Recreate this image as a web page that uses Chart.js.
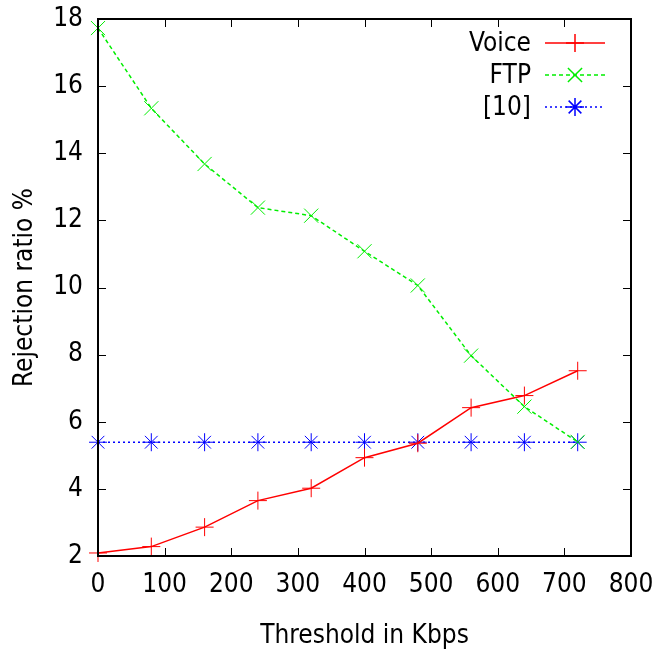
<!DOCTYPE html>
<html>
<head>
<meta charset="utf-8">
<script src="https://cdn.jsdelivr.net/npm/chart.js@4"></script>
<style>
  html, body { margin: 0; padding: 0; background: #fff; }
  #chart { display: block; }
</style>
</head>
<body>
<canvas id="chart" width="655" height="652"></canvas>
<script>
const thresholds = [0, 80, 160, 240, 320, 400, 480, 560, 640, 720];
const voice = [2.09, 2.28, 2.86, 3.65, 4.02, 4.93, 5.36, 6.42, 6.78, 7.52];
const ftp = [17.73, 15.34, 13.68, 12.38, 12.14, 11.08, 10.06, 7.97, 6.45, 5.40];
const ref10 = [5.39, 5.39, 5.39, 5.39, 5.39, 5.39, 5.39, 5.39, 5.39, 5.39];
const seriesNames = ["Voice", "FTP", "[10]"];
const xTicks = [0, 100, 200, 300, 400, 500, 600, 700, 800];
const yTicks = [2, 4, 6, 8, 10, 12, 14, 16, 18];

const FONT = "'DejaVu Sans Condensed', 'Liberation Sans Narrow', 'Liberation Sans', sans-serif";

const toPoints = (vals) => thresholds.map((x, i) => ({ x, y: vals[i] }));

// gnuplot-like frame with inward ticks on all four sides
const framePlugin = {
    id: "frame",
    afterDatasetsDraw(chart) {
        const { ctx, chartArea: a, scales } = chart;
        const len = 8;
        ctx.save();
        ctx.strokeStyle = "#000";
        ctx.lineWidth = 1;
        ctx.beginPath();
        xTicks.forEach((v) => {
            const px = Math.round(scales.x.getPixelForValue(v)) + 0.5;
            if (v === xTicks[0] || v === xTicks[xTicks.length - 1]) return;
            ctx.moveTo(px, a.bottom); ctx.lineTo(px, a.bottom - len);
            ctx.moveTo(px, a.top); ctx.lineTo(px, a.top + len);
        });
        yTicks.forEach((v) => {
            const py = Math.round(scales.y.getPixelForValue(v)) + 0.5;
            if (v === yTicks[0] || v === yTicks[yTicks.length - 1]) return;
            ctx.moveTo(a.left, py); ctx.lineTo(a.left + len, py);
            ctx.moveTo(a.right, py); ctx.lineTo(a.right - len, py);
        });
        ctx.stroke();
        ctx.lineWidth = 2;
        ctx.strokeRect(a.left, a.top, a.right - a.left, a.bottom - a.top);
        ctx.restore();
    },
};

// legend: right-aligned label, sample line with marker to its right
const keyPlugin = {
    id: "key",
    afterDraw(chart) {
        const { ctx } = chart;
        ctx.save();
        ctx.font = "26px " + FONT;
        ctx.textAlign = "right";
        ctx.textBaseline = "middle";
        chart.data.datasets.forEach((ds, i) => {
            const y = 43 + i * 32;
            ctx.fillStyle = "#000";
            ctx.fillText(ds.label, 531, y + 1);
            ctx.strokeStyle = ds.borderColor;
            ctx.lineWidth = ds.borderWidth;
            ctx.setLineDash(ds.borderDash || []);
            ctx.beginPath();
            ctx.moveTo(545, y);
            ctx.lineTo(605, y);
            ctx.stroke();
            ctx.setLineDash([]);
            Chart.helpers.drawPoint(ctx, {
                pointStyle: ds.pointStyle,
                rotation: 0,
                radius: ds.pointRadius,
                borderWidth: ds.pointBorderWidth || 1,
            }, 575, y);
        });
        ctx.restore();
    },
};

new Chart(document.getElementById("chart"), {
    type: "line",
    data: {
        datasets: [
            {
                label: seriesNames[0],
                data: toPoints(voice),
                borderColor: "#ff0000",
                backgroundColor: "#ff0000",
                borderWidth: 1.5,
                pointStyle: "cross",
                pointRadius: 9,
                pointBorderWidth: 1,
                clip: false,
            },
            {
                label: seriesNames[1],
                data: toPoints(ftp),
                borderColor: "#00ee00",
                backgroundColor: "#00ee00",
                borderWidth: 1.5,
                borderDash: [4, 3],
                pointStyle: "crossRot",
                pointRadius: 10,
                pointBorderWidth: 1,
                clip: false,
            },
            {
                label: seriesNames[2],
                data: toPoints(ref10),
                borderColor: "#0000ff",
                backgroundColor: "#0000ff",
                borderWidth: 1.5,
                borderDash: [2, 3],
                pointStyle: "star",
                pointRadius: 9,
                pointBorderWidth: 1,
                clip: false,
            },
        ],
    },
    options: {
        responsive: false,
        animation: false,
        layout: { padding: { top: 19, right: 24, left: 0, bottom: 0 } },
        plugins: {
            legend: { display: false },
            tooltip: { enabled: false },
        },
        scales: {
            x: {
                type: "linear",
                min: 0,
                max: 800,
                afterFit: (s) => { s.height = 96; s.paddingLeft = 0; s.paddingRight = 0; },
                afterBuildTicks: (s) => { s.ticks = xTicks.map((v) => ({ value: v })); },
                border: { display: false },
                grid: { display: false, drawTicks: false },
                ticks: {
                    color: "#000",
                    padding: 14,
                    maxRotation: 0,
                    font: { family: FONT, size: 26 },
                },
                title: {
                    display: true,
                    text: "Threshold in Kbps",
                    color: "#000",
                    padding: { top: 0, bottom: 0 },
                    font: { family: FONT, size: 26 },
                },
            },
            y: {
                type: "linear",
                min: 2,
                max: 18,
                afterFit: (s) => { s.width = 98; s.paddingTop = 0; s.paddingBottom = 0; },
                afterBuildTicks: (s) => { s.ticks = yTicks.map((v) => ({ value: v })); },
                border: { display: false },
                grid: { display: false, drawTicks: false },
                ticks: {
                    color: "#000",
                    padding: 15,
                    font: { family: FONT, size: 26 },
                },
                title: {
                    display: true,
                    text: "Rejection ratio %",
                    color: "#000",
                    padding: { top: 10, bottom: 0 },
                    font: { family: FONT, size: 26 },
                },
            },
        },
    },
    plugins: [framePlugin, keyPlugin],
});
</script>
</body>
</html>
